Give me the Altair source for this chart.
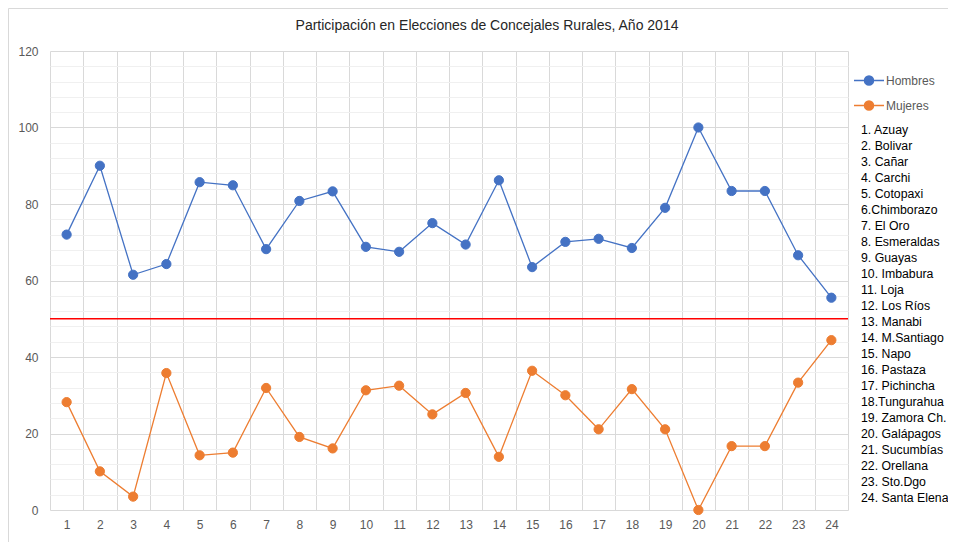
import altair as alt
import pandas as pd

titulo = "Participación en Elecciones de Concejales Rurales, Año 2014"
numeros = list(range(1, 25))
provincias = ["1. Azuay", "2. Bolivar", "3. Cañar", "4. Carchi", "5. Cotopaxi",
              "6.Chimborazo", "7. El Oro", "8. Esmeraldas", "9. Guayas", "10. Imbabura",
              "11. Loja", "12. Los Ríos", "13. Manabi", "14. M.Santiago", "15. Napo",
              "16. Pastaza", "17. Pichincha", "18.Tungurahua", "19. Zamora Ch.",
              "20. Galápagos", "21. Sucumbías", "22. Orellana", "23. Sto.Dgo",
              "24. Santa Elena"]
hombres = [72.0, 90.0, 61.5, 64.3, 85.7, 84.9, 68.2, 80.8, 83.3, 68.8, 67.5, 75.0,
           69.4, 86.2, 63.5, 70.1, 70.9, 68.5, 79.0, 100.0, 83.4, 83.4, 66.6, 55.5]
mujeres = [28.2, 10.1, 3.5, 35.8, 14.3, 15.0, 31.9, 19.1, 16.1, 31.3, 32.5, 25.0,
           30.6, 13.9, 36.4, 30.0, 21.1, 31.6, 21.1, 0.0, 16.7, 16.7, 33.3, 44.4]
series = ["Hombres", "Mujeres"]
colores = ["#4472C4", "#ED7D31"]
umbral = [50]

W, H = 798, 459
FONT = "Liberation Sans"

rows = []
for n, h, m in zip(numeros, hombres, mujeres):
    rows.append({"numero": n, "serie": "Hombres", "valor": h})
    rows.append({"numero": n, "serie": "Mujeres", "valor": m})
df = pd.DataFrame(rows)

x_enc = alt.X(
    "numero:Q",
    scale=alt.Scale(domain=[0.5, 24.5], nice=False, zero=False),
    axis=alt.Axis(
        values=[i + 0.5 for i in range(25)],
        labelExpr="datum.value < 24 ? format(datum.value + 0.5, 'd') : ''",
        labelOffset=W / 48,
        labelFlush=False,
        labelOverlap=False,
        ticks=False,
        domain=False,
        grid=True,
        gridColor="#d9d9d9",
        labelColor="#595959",
        labelFontSize=12,
        labelFont=FONT,
        labelPadding=9,
        title=None,
    ),
)
y_enc = alt.Y(
    "valor:Q",
    scale=alt.Scale(domain=[0, 120], nice=False),
    axis=alt.Axis(
        values=list(range(0, 121, 4)),
        labelExpr="datum.value % 20 === 0 ? datum.label : ''",
        labelOverlap=False,
        ticks=False,
        domain=False,
        grid=True,
        gridColor={"condition": {"test": "datum.value % 20 === 0", "value": "#d9d9d9"},
                   "value": "#f0f0f0"},
        labelColor="#595959",
        labelFontSize=12,
        labelFont=FONT,
        labelPadding=12,
        title=None,
    ),
)

sym = "M-2,0L2,0M0.6,0A0.6,0.6,0,1,1,-0.6,0A0.6,0.6,0,1,1,0.6,0Z"
legend = alt.Legend(
    title=None, orient="none", legendX=810.5, legendY=21, padding=0,
    symbolType=sym, symbolSize=225, symbolStrokeWidth=1.5, symbolOpacity=1,
    labelOffset=8.5, labelFontSize=12, labelFont=FONT, labelColor="#595959",
    rowPadding=9,
)
color_enc = alt.Color("serie:N", scale=alt.Scale(domain=series, range=colores), legend=legend)
stroke_enc = alt.Stroke("serie:N", scale=alt.Scale(domain=series, range=colores), legend=legend)

base = alt.Chart(df)
lineas = base.mark_line(strokeWidth=1.3).encode(x=x_enc, y=y_enc, color=color_enc)
puntos = base.mark_point(filled=True, size=85, opacity=1, strokeWidth=1).encode(
    x=x_enc, y=y_enc, color=color_enc, stroke=stroke_enc)

regla = alt.Chart(pd.DataFrame({"valor": umbral})).mark_rule(
    color="#FF0000", strokeWidth=1.5).encode(y=y_enc)

lista = alt.Chart(pd.DataFrame({"k": [0]})).mark_text(
    text=provincias, align="left", baseline="alphabetic", fontSize=12.3,
    lineHeight=16, font=FONT, color="#000000",
).encode(x=alt.value(811), y=alt.value(83))

marco = alt.Chart(pd.DataFrame({"k": [0]})).mark_rect(
    fill="transparent", stroke="#d9d9d9", strokeWidth=1,
).encode(x=alt.value(-41.5), x2=alt.value(1000), y=alt.value(-42.5), y2=alt.value(700))

chart = alt.layer(marco, regla, lineas, puntos, lista).properties(
    width=W, height=H,
    title=alt.TitleParams(titulo, fontSize=14, font=FONT, fontWeight="normal",
                          color="#262626", anchor="middle", frame="group",
                          dx=38, dy=25, offset=0),
    autosize=alt.AutoSizeParams(type="none"),
    padding={"left": 42, "top": 43, "right": 100, "bottom": 32},
).configure_view(stroke=None)

chart.save("out.html", embed_options={"renderer": "svg", "actions": False})
